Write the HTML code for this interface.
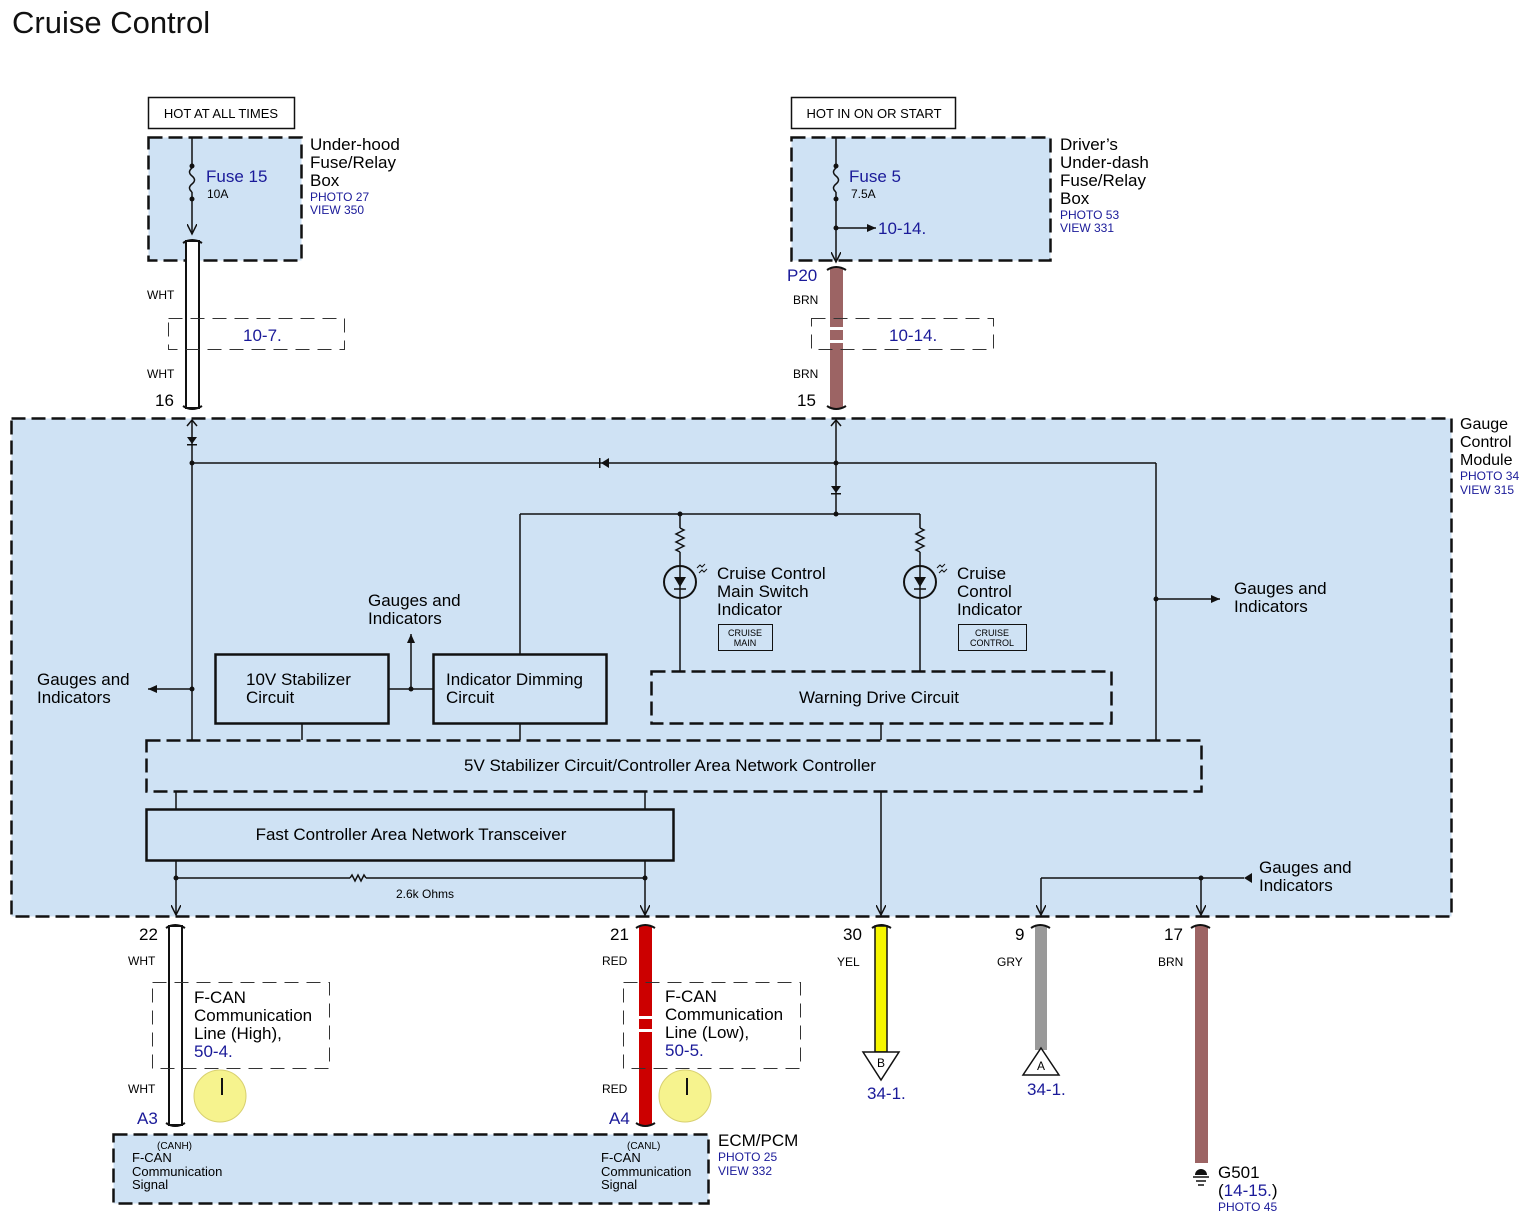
<!DOCTYPE html>
<html><head><meta charset="utf-8"><style>
html,body{margin:0;padding:0;background:#fff;}
svg{display:block;font-family:"Liberation Sans",Arial,sans-serif;}
.b{fill:#1a1a99}
</style></head><body>
<svg width="1534" height="1230" viewBox="0 0 1534 1230" xmlns="http://www.w3.org/2000/svg">
<defs>
<marker id="ar" markerWidth="10" markerHeight="10" refX="9" refY="5" orient="auto" markerUnits="userSpaceOnUse"><path d="M0,1 L9,5 L0,9 z" fill="#111"/></marker>
<marker id="av" markerWidth="12" markerHeight="10" refX="10" refY="5" orient="auto" markerUnits="userSpaceOnUse"><path d="M0,0 L10,5 L0,10" fill="none" stroke="#111" stroke-width="1.5"/></marker>
</defs>
<text x="12" y="33" font-size="31" fill="#111">Cruise Control</text>

<!-- top boxes -->
<rect x="148.5" y="97.5" width="146" height="31" fill="#fff" stroke="#111" stroke-width="1.5"/>
<text x="221" y="118" font-size="13" text-anchor="middle">HOT AT ALL TIMES</text>
<rect x="148.5" y="137.5" width="153" height="123" fill="#cfe2f4" stroke="#111" stroke-width="2.5" stroke-dasharray="14,6"/>
<text x="310" y="150" font-size="17">Under-hood</text>
<text x="310" y="168" font-size="17">Fuse/Relay</text>
<text x="310" y="186" font-size="17">Box</text>
<text x="310" y="201" font-size="12" class="b">PHOTO 27</text>
<text x="310" y="214" font-size="12" class="b">VIEW 350</text>
<line x1="192" y1="137" x2="192" y2="168" stroke="#111" stroke-width="1.5"/>
<path d="M192,168 q-5,4 0,8 q5,4 0,8 q-5,4 0,8" fill="none" stroke="#111" stroke-width="1.5"/>
<circle cx="192" cy="166" r="2.5" fill="#111"/><circle cx="192" cy="199" r="2.5" fill="#111"/>
<line x1="192" y1="192" x2="192" y2="234" stroke="#111" stroke-width="1.5" marker-end="url(#av)"/>
<text x="206" y="182" font-size="17" class="b">Fuse 15</text>
<text x="207" y="198" font-size="12">10A</text>

<rect x="791.5" y="97.5" width="164" height="31" fill="#fff" stroke="#111" stroke-width="1.5"/>
<text x="874" y="118" font-size="13" text-anchor="middle">HOT IN ON OR START</text>
<rect x="791.5" y="137.5" width="259" height="123" fill="#cfe2f4" stroke="#111" stroke-width="2.5" stroke-dasharray="14,6"/>
<text x="1060" y="150" font-size="17">Driver’s</text>
<text x="1060" y="168" font-size="17">Under-dash</text>
<text x="1060" y="186" font-size="17">Fuse/Relay</text>
<text x="1060" y="204" font-size="17">Box</text>
<text x="1060" y="219" font-size="12" class="b">PHOTO 53</text>
<text x="1060" y="232" font-size="12" class="b">VIEW 331</text>
<line x1="836" y1="137" x2="836" y2="168" stroke="#111" stroke-width="1.5"/>
<path d="M836,168 q-5,4 0,8 q5,4 0,8 q-5,4 0,8" fill="none" stroke="#111" stroke-width="1.5"/>
<circle cx="836" cy="166" r="2.5" fill="#111"/><circle cx="836" cy="199" r="2.5" fill="#111"/>
<line x1="836" y1="192" x2="836" y2="262" stroke="#111" stroke-width="1.5" marker-end="url(#av)"/>
<circle cx="836" cy="228" r="2.5" fill="#111"/>
<line x1="836" y1="228" x2="876" y2="228" stroke="#111" stroke-width="1.5" marker-end="url(#ar)"/>
<text x="878" y="234" font-size="17" class="b">10-14.</text>
<text x="849" y="182" font-size="17" class="b">Fuse 5</text>
<text x="851" y="198" font-size="12">7.5A</text>

<!-- top wires -->
<rect x="186" y="241" width="13" height="167" fill="#fff" stroke="#111" stroke-width="2"/>
<path d="M183,243 q9,-6 19,0 M183,406 q9,6 19,0" fill="none" stroke="#111" stroke-width="2"/>
<text x="147" y="299" font-size="12">WHT</text>
<text x="147" y="378" font-size="12">WHT</text>
<text x="155" y="406" font-size="17">16</text>
<rect x="168.5" y="318.5" width="176" height="31" fill="none" stroke="#333" stroke-width="1" stroke-dasharray="14,8"/>
<text x="243" y="341" font-size="17" class="b">10-7.</text>

<rect x="830" y="268" width="13" height="140" fill="#9c6464"/>
<rect x="830" y="327" width="13" height="3" fill="#fff"/><rect x="830" y="340" width="13" height="3" fill="#fff"/>
<path d="M827,270 q9,-6 19,0 M827,406 q9,6 19,0" fill="none" stroke="#111" stroke-width="2"/>
<text x="787" y="281" font-size="17" class="b">P20</text>
<text x="793" y="304" font-size="12">BRN</text>
<text x="793" y="378" font-size="12">BRN</text>
<text x="797" y="406" font-size="17">15</text>
<rect x="811.5" y="318.5" width="182" height="31" fill="none" stroke="#333" stroke-width="1" stroke-dasharray="14,8"/>
<text x="889" y="341" font-size="17" class="b">10-14.</text>

<!-- Gauge control module -->
<rect x="11.5" y="418.5" width="1440" height="498" fill="#cfe2f4" stroke="#111" stroke-width="2.5" stroke-dasharray="14,6"/>
<text x="1460" y="429" font-size="16">Gauge</text>
<text x="1460" y="447" font-size="16">Control</text>
<text x="1460" y="465" font-size="16">Module</text>
<text x="1460" y="480" font-size="12" class="b">PHOTO 34</text>
<text x="1460" y="494" font-size="12" class="b">VIEW 315</text>

<g stroke="#111" stroke-width="1.5" fill="none">
<path d="M187,426 l5,-6 l5,6 M831,426 l5,-6 l5,6"/>
<line x1="192" y1="420" x2="192" y2="740"/>
<line x1="192" y1="463" x2="1156" y2="463"/>
<line x1="1156" y1="463" x2="1156" y2="740"/>
<line x1="836" y1="420" x2="836" y2="514"/>
<line x1="520" y1="514" x2="920" y2="514"/>
<line x1="520" y1="514" x2="520" y2="654"/>
<line x1="680" y1="514" x2="680" y2="528"/>
<path d="M680,528 l4,2 l-8,4 l8,4 l-8,4 l8,4 l-8,4 l4,2"/>
<line x1="680" y1="552" x2="680" y2="671"/>
<line x1="920" y1="514" x2="920" y2="528"/>
<path d="M920,528 l4,2 l-8,4 l8,4 l-8,4 l8,4 l-8,4 l4,2"/>
<line x1="920" y1="552" x2="920" y2="671"/>
<circle cx="680" cy="582" r="16" stroke-width="2"/>
<circle cx="920" cy="582" r="16" stroke-width="2"/>
<line x1="674" y1="589" x2="686" y2="589"/><line x1="914" y1="589" x2="926" y2="589"/>
<path d="M697,568 l3,-3 l2,2 l3,-3 M699,573 l3,-3 l2,2 l3,-3 M937,568 l3,-3 l2,2 l3,-3 M939,573 l3,-3 l2,2 l3,-3" stroke-width="1"/>
<line x1="1156" y1="599" x2="1220" y2="599" marker-end="url(#ar)"/>
<line x1="192" y1="689" x2="148" y2="689" marker-end="url(#ar)"/>
<line x1="389" y1="689" x2="433" y2="689"/>
<line x1="411" y1="689" x2="411" y2="634" marker-end="url(#ar)"/>
<line x1="302" y1="724" x2="302" y2="740"/>
<line x1="520" y1="724" x2="520" y2="740"/>
<line x1="881" y1="724" x2="881" y2="740"/>
<line x1="176" y1="792" x2="176" y2="809"/>
<line x1="645" y1="792" x2="645" y2="809"/>
<line x1="176" y1="861" x2="176" y2="915" marker-end="url(#av)"/>
<line x1="645" y1="861" x2="645" y2="915" marker-end="url(#av)"/>
<line x1="176" y1="878" x2="350" y2="878"/>
<path d="M350,878 l2,-3 l3,6 l3,-6 l3,6 l3,-6 l2,3"/>
<line x1="366" y1="878" x2="645" y2="878"/>
<line x1="881" y1="792" x2="881" y2="915" marker-end="url(#av)"/>
<line x1="1041" y1="878" x2="1244" y2="878"/>
<line x1="1041" y1="878" x2="1041" y2="915" marker-end="url(#av)"/>
<line x1="1201" y1="878" x2="1201" y2="915" marker-end="url(#av)"/>
</g>
<g fill="#111">
<path d="M187,437 h10 l-5,7 z"/><rect x="187" y="444" width="10" height="1.5"/>
<path d="M831,486 h10 l-5,7 z"/><rect x="831" y="493" width="10" height="1.5"/>
<path d="M601,463 l8,-5 v10 z"/><rect x="599" y="458" width="1.5" height="10"/>
<path d="M674,577 h12 l-6,10 z"/><path d="M914,577 h12 l-6,10 z"/>
<path d="M1244,878 l8,-5 v10 z"/>
<circle cx="192" cy="463" r="2.5"/><circle cx="836" cy="463" r="2.5"/><circle cx="836" cy="514" r="2.5"/><circle cx="680" cy="514" r="2.5"/>
<circle cx="192" cy="689" r="2.5"/><circle cx="411" cy="689" r="2.5"/><circle cx="1156" cy="599" r="2.5"/>
<circle cx="176" cy="878" r="2.5"/><circle cx="645" cy="878" r="2.5"/><circle cx="1201" cy="878" r="2.5"/>
</g>
<text x="717" y="579" font-size="17">Cruise Control</text>
<text x="717" y="597" font-size="17">Main Switch</text>
<text x="717" y="615" font-size="17">Indicator</text>
<rect x="718.5" y="624.5" width="54" height="26" fill="none" stroke="#111" stroke-width="1"/>
<text x="745" y="636" font-size="9" text-anchor="middle">CRUISE</text>
<text x="745" y="646" font-size="9" text-anchor="middle">MAIN</text>
<text x="957" y="579" font-size="17">Cruise</text>
<text x="957" y="597" font-size="17">Control</text>
<text x="957" y="615" font-size="17">Indicator</text>
<rect x="958.5" y="624.5" width="68" height="26" fill="none" stroke="#111" stroke-width="1"/>
<text x="992" y="636" font-size="9" text-anchor="middle">CRUISE</text>
<text x="992" y="646" font-size="9" text-anchor="middle">CONTROL</text>
<text x="1234" y="594" font-size="17">Gauges and</text>
<text x="1234" y="612" font-size="17">Indicators</text>
<text x="368" y="606" font-size="17">Gauges and</text>
<text x="368" y="624" font-size="17">Indicators</text>
<text x="37" y="685" font-size="17">Gauges and</text>
<text x="37" y="703" font-size="17">Indicators</text>
<text x="1259" y="873" font-size="17">Gauges and</text>
<text x="1259" y="891" font-size="17">Indicators</text>

<rect x="215.5" y="654.5" width="173" height="69" fill="none" stroke="#111" stroke-width="2.5"/>
<text x="246" y="685" font-size="17">10V Stabilizer</text>
<text x="246" y="703" font-size="17">Circuit</text>
<rect x="433.5" y="654.5" width="173" height="69" fill="none" stroke="#111" stroke-width="2.5"/>
<text x="446" y="685" font-size="17">Indicator Dimming</text>
<text x="446" y="703" font-size="17">Circuit</text>
<rect x="651.5" y="671.5" width="460" height="52" fill="none" stroke="#111" stroke-width="2.5" stroke-dasharray="14,6"/>
<text x="879" y="703" font-size="17" text-anchor="middle">Warning Drive Circuit</text>
<rect x="146.5" y="740.5" width="1055" height="51" fill="none" stroke="#111" stroke-width="2.5" stroke-dasharray="14,6"/>
<text x="670" y="771" font-size="17" text-anchor="middle">5V Stabilizer Circuit/Controller Area Network Controller</text>
<rect x="146.5" y="809.5" width="527" height="51" fill="none" stroke="#111" stroke-width="2.5"/>
<text x="411" y="840" font-size="17" text-anchor="middle">Fast Controller Area Network Transceiver</text>
<text x="425" y="898" font-size="12" text-anchor="middle">2.6k Ohms</text>

<!-- bottom wires -->
<rect x="169" y="926" width="13" height="199" fill="#fff" stroke="#111" stroke-width="2"/>
<path d="M166,928 q9,-6 19,0 M166,1123 q9,6 19,0" fill="none" stroke="#111" stroke-width="2"/>
<text x="139" y="940" font-size="17">22</text>
<text x="128" y="965" font-size="12">WHT</text>
<text x="128" y="1093" font-size="12">WHT</text>
<text x="137" y="1124" font-size="17" class="b">A3</text>
<rect x="152.5" y="982.5" width="177" height="86" fill="none" stroke="#333" stroke-width="1" stroke-dasharray="14,8"/>
<text x="194" y="1003" font-size="17">F-CAN</text>
<text x="194" y="1021" font-size="17">Communication</text>
<text x="194" y="1039" font-size="17">Line (High),</text>
<text x="194" y="1057" font-size="17" class="b">50-4.</text>
<circle cx="220" cy="1096" r="26" fill="#f6f38e" stroke="#d8d070" stroke-width="1"/>
<line x1="222" y1="1078" x2="222" y2="1095" stroke="#111" stroke-width="2"/>

<rect x="639" y="926" width="13" height="199" fill="#cc0000"/>
<rect x="639" y="1016" width="13" height="3" fill="#fff"/><rect x="639" y="1029" width="13" height="3" fill="#fff"/>
<path d="M636,928 q9,-6 19,0 M636,1123 q9,6 19,0" fill="none" stroke="#111" stroke-width="2"/>
<text x="610" y="940" font-size="17">21</text>
<text x="602" y="965" font-size="12">RED</text>
<text x="602" y="1093" font-size="12">RED</text>
<text x="609" y="1124" font-size="17" class="b">A4</text>
<rect x="623.5" y="982.5" width="177" height="86" fill="none" stroke="#333" stroke-width="1" stroke-dasharray="14,8"/>
<text x="665" y="1002" font-size="17">F-CAN</text>
<text x="665" y="1020" font-size="17">Communication</text>
<text x="665" y="1038" font-size="17">Line (Low),</text>
<text x="665" y="1056" font-size="17" class="b">50-5.</text>
<circle cx="685" cy="1096" r="26" fill="#f6f38e" stroke="#d8d070" stroke-width="1"/>
<line x1="687" y1="1078" x2="687" y2="1095" stroke="#111" stroke-width="2"/>

<rect x="113.5" y="1134.5" width="595" height="69" fill="#cfe2f4" stroke="#111" stroke-width="2.5" stroke-dasharray="14,6"/>
<text x="157" y="1149" font-size="10">(CANH)</text>
<text x="132" y="1162" font-size="13">F-CAN</text>
<text x="132" y="1176" font-size="13">Communication</text>
<text x="132" y="1189" font-size="13">Signal</text>
<text x="627" y="1149" font-size="10">(CANL)</text>
<text x="601" y="1162" font-size="13">F-CAN</text>
<text x="601" y="1176" font-size="13">Communication</text>
<text x="601" y="1189" font-size="13">Signal</text>
<text x="718" y="1146" font-size="17">ECM/PCM</text>
<text x="718" y="1161" font-size="12" class="b">PHOTO 25</text>
<text x="718" y="1175" font-size="12" class="b">VIEW 332</text>

<rect x="875" y="926" width="12" height="126" fill="#f5f500" stroke="#111" stroke-width="1.5"/>
<path d="M872,928 q9,-6 19,0" fill="none" stroke="#111" stroke-width="2"/>
<text x="843" y="940" font-size="17">30</text>
<text x="837" y="966" font-size="12">YEL</text>
<path d="M863,1052 h36 l-18,28 z" fill="#fff" stroke="#111" stroke-width="1.5"/>
<text x="881" y="1067" font-size="12" text-anchor="middle">B</text>
<text x="867" y="1099" font-size="17" class="b">34-1.</text>

<rect x="1035" y="926" width="12" height="124" fill="#999"/>
<path d="M1031,928 q9,-6 19,0" fill="none" stroke="#111" stroke-width="2"/>
<text x="1015" y="940" font-size="17">9</text>
<text x="997" y="966" font-size="12">GRY</text>
<path d="M1041,1048 l18,27 h-36 z" fill="#fff" stroke="#111" stroke-width="1.5"/>
<text x="1041" y="1070" font-size="12" text-anchor="middle">A</text>
<text x="1027" y="1095" font-size="17" class="b">34-1.</text>

<rect x="1195" y="926" width="13" height="237" fill="#9c6464"/>
<path d="M1191,928 q9,-6 19,0" fill="none" stroke="#111" stroke-width="2"/>
<text x="1164" y="940" font-size="17">17</text>
<text x="1158" y="966" font-size="12">BRN</text>
<path d="M1195,1175 a6,6 0 0 1 12,0 z" fill="#111"/>
<g stroke="#111" stroke-width="1.5"><line x1="1193" y1="1177" x2="1209" y2="1177"/><line x1="1196" y1="1181" x2="1206" y2="1181"/><line x1="1198" y1="1185" x2="1204" y2="1185"/></g>
<text x="1218" y="1178" font-size="17">G501</text>
<text x="1218" y="1196" font-size="17">(<tspan class="b">14-15.</tspan>)</text>
<text x="1218" y="1211" font-size="12" class="b">PHOTO 45</text>
</svg>
</body></html>
